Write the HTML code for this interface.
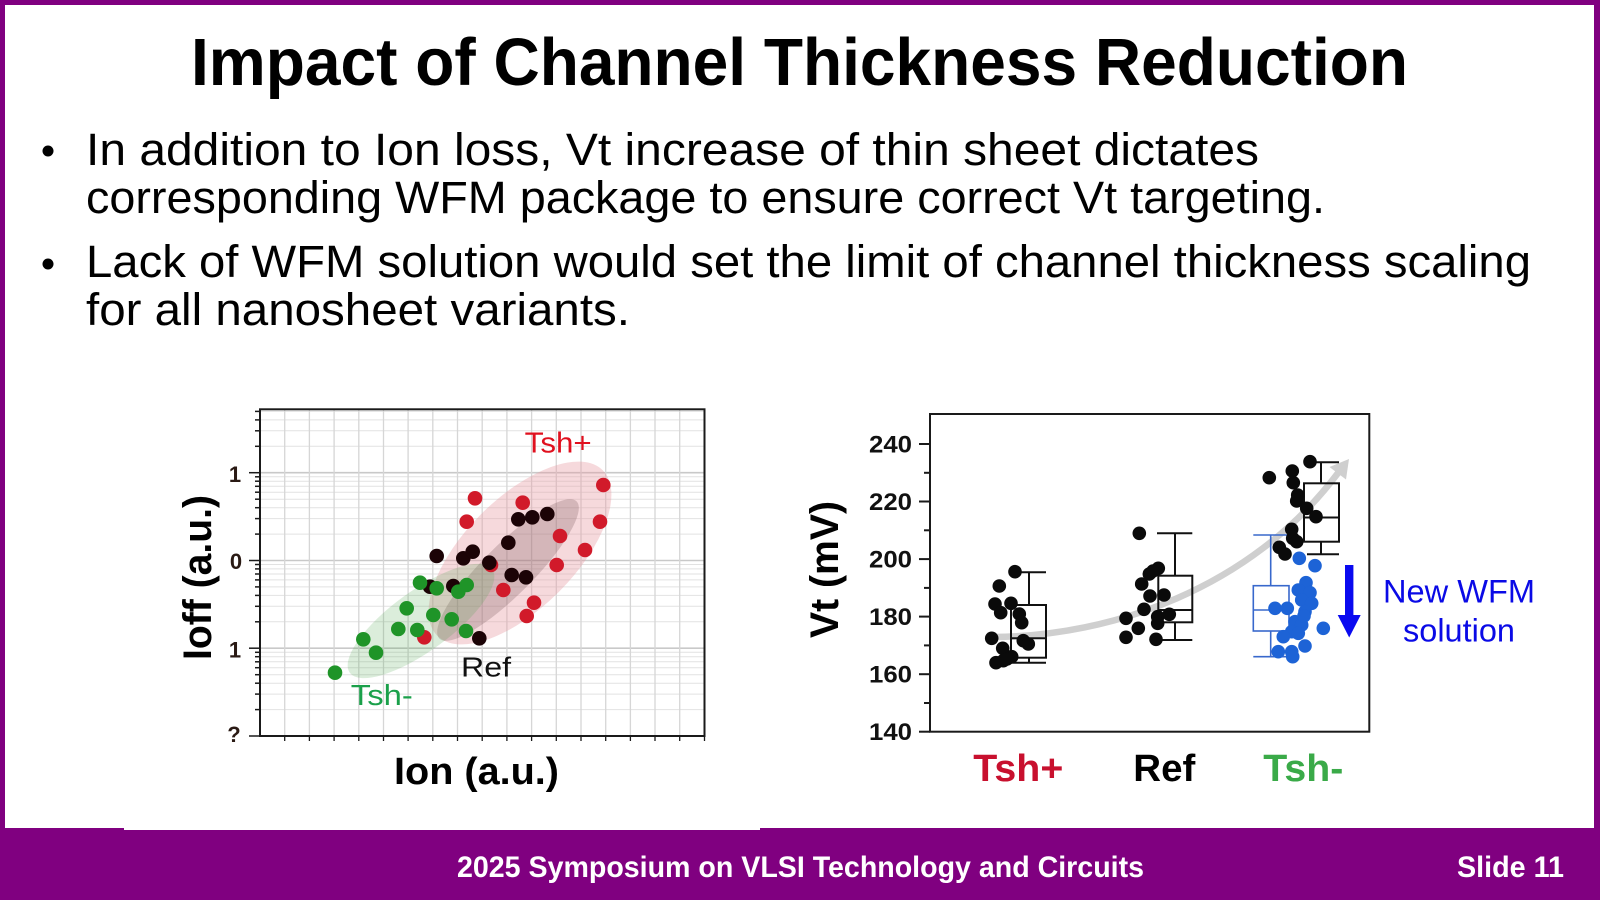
<!DOCTYPE html>
<html>
<head>
<meta charset="utf-8">
<style>
html,body{margin:0;padding:0;background:#fff;}
svg{display:block;}
text{font-family:"Liberation Sans",Arial,sans-serif;}
</style>
</head>
<body>
<svg width="1600" height="900" viewBox="0 0 1600 900" xmlns="http://www.w3.org/2000/svg">
<!-- slide background & border -->
<rect x="0" y="0" width="1600" height="900" fill="#800080"/>
<rect x="5" y="5" width="1589" height="823" fill="#ffffff"/>
<rect x="124" y="826" width="636" height="4" fill="#ffffff"/>

<!-- Title -->
<text x="191" y="85" font-size="67" font-weight="bold" fill="#000" textLength="1217" lengthAdjust="spacingAndGlyphs">Impact of Channel Thickness Reduction</text>

<!-- Bullets -->
<circle cx="48" cy="151" r="5.5" fill="#000"/>
<circle cx="48" cy="264" r="5.5" fill="#000"/>
<text x="86" y="165" font-size="45" fill="#000" textLength="1173" lengthAdjust="spacingAndGlyphs">In addition to Ion loss, Vt increase of thin sheet dictates</text>
<text x="86" y="213" font-size="45" fill="#000" textLength="1239" lengthAdjust="spacingAndGlyphs">corresponding WFM package to ensure correct Vt targeting.</text>
<text x="86" y="277" font-size="45" fill="#000" textLength="1445" lengthAdjust="spacingAndGlyphs">Lack of WFM solution would set the limit of channel thickness scaling</text>
<text x="86" y="325" font-size="45" fill="#000" textLength="544" lengthAdjust="spacingAndGlyphs">for all nanosheet variants.</text>

<!-- ================= LEFT CHART ================= -->
<g>
  <rect x="260" y="409.3" width="444.5" height="326.7" fill="#fff"/>
  <!-- minor horizontal grid -->
  <g stroke="#e2e2e2" stroke-width="1">
    <line x1="260" x2="704.5" y1="709.6" y2="709.6"/><line x1="260" x2="704.5" y1="694.1" y2="694.1"/>
    <line x1="260" x2="704.5" y1="683.2" y2="683.2"/><line x1="260" x2="704.5" y1="674.7" y2="674.7"/>
    <line x1="260" x2="704.5" y1="667.7" y2="667.7"/><line x1="260" x2="704.5" y1="661.8" y2="661.8"/>
    <line x1="260" x2="704.5" y1="656.7" y2="656.7"/><line x1="260" x2="704.5" y1="652.3" y2="652.3"/>
    <line x1="260" x2="704.5" y1="621.8" y2="621.8"/><line x1="260" x2="704.5" y1="606.3" y2="606.3"/>
    <line x1="260" x2="704.5" y1="595.4" y2="595.4"/><line x1="260" x2="704.5" y1="586.9" y2="586.9"/>
    <line x1="260" x2="704.5" y1="579.9" y2="579.9"/><line x1="260" x2="704.5" y1="574.0" y2="574.0"/>
    <line x1="260" x2="704.5" y1="568.9" y2="568.9"/><line x1="260" x2="704.5" y1="564.5" y2="564.5"/>
    <line x1="260" x2="704.5" y1="534.1" y2="534.1"/><line x1="260" x2="704.5" y1="518.6" y2="518.6"/>
    <line x1="260" x2="704.5" y1="507.7" y2="507.7"/><line x1="260" x2="704.5" y1="499.2" y2="499.2"/>
    <line x1="260" x2="704.5" y1="492.2" y2="492.2"/><line x1="260" x2="704.5" y1="486.3" y2="486.3"/>
    <line x1="260" x2="704.5" y1="481.2" y2="481.2"/><line x1="260" x2="704.5" y1="476.8" y2="476.8"/>
    <line x1="260" x2="704.5" y1="446.3" y2="446.3"/><line x1="260" x2="704.5" y1="430.8" y2="430.8"/>
    <line x1="260" x2="704.5" y1="419.9" y2="419.9"/><line x1="260" x2="704.5" y1="411.4" y2="411.4"/>
  </g>
  <!-- major horizontal grid -->
  <g stroke="#c9c9c9" stroke-width="1.6">
    <line x1="260" x2="704.5" y1="472.7" y2="472.7"/>
    <line x1="260" x2="704.5" y1="560.5" y2="560.5"/>
    <line x1="260" x2="704.5" y1="648.2" y2="648.2"/>
  </g>
  <!-- vertical grid -->
  <g stroke="#d6d6d6" stroke-width="1.3">
    <line y1="409.3" y2="736" x1="284.7" x2="284.7"/><line y1="409.3" y2="736" x1="309.4" x2="309.4"/>
    <line y1="409.3" y2="736" x1="334.1" x2="334.1"/><line y1="409.3" y2="736" x1="358.8" x2="358.8"/>
    <line y1="409.3" y2="736" x1="383.5" x2="383.5"/><line y1="409.3" y2="736" x1="408.1" x2="408.1"/>
    <line y1="409.3" y2="736" x1="432.8" x2="432.8"/><line y1="409.3" y2="736" x1="457.5" x2="457.5"/>
    <line y1="409.3" y2="736" x1="482.2" x2="482.2"/><line y1="409.3" y2="736" x1="506.9" x2="506.9"/>
    <line y1="409.3" y2="736" x1="531.6" x2="531.6"/><line y1="409.3" y2="736" x1="556.3" x2="556.3"/>
    <line y1="409.3" y2="736" x1="581.0" x2="581.0"/><line y1="409.3" y2="736" x1="605.7" x2="605.7"/>
    <line y1="409.3" y2="736" x1="630.4" x2="630.4"/><line y1="409.3" y2="736" x1="655.0" x2="655.0"/>
    <line y1="409.3" y2="736" x1="679.7" x2="679.7"/>
  </g>

  <!-- ellipses -->
  <ellipse cx="520" cy="553" rx="117" ry="55" transform="rotate(-45 520 553)" fill="#e79aa3" fill-opacity="0.38"/>
  <ellipse cx="508" cy="570" rx="97" ry="25" transform="rotate(-45 508 570)" fill="#5a3a3e" fill-opacity="0.22"/>
  <ellipse cx="421" cy="621" rx="88" ry="30" transform="rotate(-36 421 621)" fill="#4aa64a" fill-opacity="0.2"/>

  <!-- red dots -->
  <g fill="#d11a2a">
    <circle cx="475" cy="498.3" r="7.3"/><circle cx="466.7" cy="521.7" r="7.3"/>
    <circle cx="522.7" cy="502.7" r="7.3"/><circle cx="603.3" cy="485" r="7.3"/>
    <circle cx="600" cy="521.7" r="7.3"/><circle cx="560" cy="536" r="7.3"/>
    <circle cx="585" cy="550" r="7.3"/><circle cx="556.7" cy="565" r="7.3"/>
    <circle cx="503.3" cy="590" r="7.3"/><circle cx="534" cy="602.7" r="7.3"/>
    <circle cx="526.7" cy="616" r="7.3"/><circle cx="424.3" cy="637.3" r="7.3"/>
    <circle cx="491" cy="565" r="7.3"/>
  </g>
  <!-- black dots -->
  <g fill="#1c0306">
    <circle cx="436.7" cy="556" r="7.3"/><circle cx="463.3" cy="558.3" r="7.3"/>
    <circle cx="472.7" cy="551.7" r="7.3"/><circle cx="489.3" cy="562.7" r="7.3"/>
    <circle cx="508.3" cy="542.7" r="7.3"/><circle cx="518.3" cy="519.3" r="7.3"/>
    <circle cx="532.3" cy="517.3" r="7.3"/><circle cx="547.3" cy="514" r="7.3"/>
    <circle cx="511.7" cy="575" r="7.3"/><circle cx="526" cy="577.3" r="7.3"/>
    <circle cx="430" cy="586.7" r="7.3"/><circle cx="453.3" cy="586" r="7.3"/>
    <circle cx="479.3" cy="638.3" r="7.3"/>
  </g>
  <!-- green dots -->
  <g fill="#1f9428">
    <circle cx="420" cy="582.7" r="7.3"/><circle cx="436.7" cy="588.3" r="7.3"/>
    <circle cx="458.3" cy="591.7" r="7.3"/><circle cx="466.7" cy="585" r="7.3"/>
    <circle cx="406.7" cy="608.3" r="7.3"/><circle cx="433.3" cy="615" r="7.3"/>
    <circle cx="451.7" cy="619.3" r="7.3"/><circle cx="466" cy="631" r="7.3"/>
    <circle cx="417.3" cy="630" r="7.3"/><circle cx="398.3" cy="629" r="7.3"/>
    <circle cx="363.3" cy="639.3" r="7.3"/><circle cx="376" cy="652.7" r="7.3"/>
    <circle cx="335" cy="672.7" r="7.3"/>
  </g>

  <!-- labels in plot -->
  <text x="524.7" y="452.7" font-size="29" fill="#e0101e" textLength="67" lengthAdjust="spacingAndGlyphs">Tsh+</text>
  <text x="461" y="676.7" font-size="28" fill="#111" textLength="50" lengthAdjust="spacingAndGlyphs">Ref</text>
  <text x="350.8" y="705" font-size="29" fill="#1aa04a" textLength="62" lengthAdjust="spacingAndGlyphs">Tsh-</text>

  <!-- frame -->
  <rect x="260" y="409.3" width="444.5" height="326.7" fill="none" stroke="#1a1a1a" stroke-width="2"/>

  <!-- left ticks -->
  <g stroke="#1a1a1a" stroke-width="1.5">
    <line x1="249" x2="260" y1="472.7" y2="472.7"/><line x1="249" x2="260" y1="560.5" y2="560.5"/>
    <line x1="249" x2="260" y1="648.2" y2="648.2"/><line x1="249" x2="260" y1="736" y2="736"/>
    <line x1="255" x2="260" y1="709.6" y2="709.6"/><line x1="255" x2="260" y1="694.1" y2="694.1"/>
    <line x1="255" x2="260" y1="683.2" y2="683.2"/><line x1="255" x2="260" y1="674.7" y2="674.7"/>
    <line x1="255" x2="260" y1="667.7" y2="667.7"/><line x1="255" x2="260" y1="661.8" y2="661.8"/>
    <line x1="255" x2="260" y1="656.7" y2="656.7"/><line x1="255" x2="260" y1="652.3" y2="652.3"/>
    <line x1="255" x2="260" y1="621.8" y2="621.8"/><line x1="255" x2="260" y1="606.3" y2="606.3"/>
    <line x1="255" x2="260" y1="595.4" y2="595.4"/><line x1="255" x2="260" y1="586.9" y2="586.9"/>
    <line x1="255" x2="260" y1="579.9" y2="579.9"/><line x1="255" x2="260" y1="574.0" y2="574.0"/>
    <line x1="255" x2="260" y1="568.9" y2="568.9"/><line x1="255" x2="260" y1="564.5" y2="564.5"/>
    <line x1="255" x2="260" y1="534.1" y2="534.1"/><line x1="255" x2="260" y1="518.6" y2="518.6"/>
    <line x1="255" x2="260" y1="507.7" y2="507.7"/><line x1="255" x2="260" y1="499.2" y2="499.2"/>
    <line x1="255" x2="260" y1="492.2" y2="492.2"/><line x1="255" x2="260" y1="486.3" y2="486.3"/>
    <line x1="255" x2="260" y1="481.2" y2="481.2"/><line x1="255" x2="260" y1="476.8" y2="476.8"/>
    <line x1="255" x2="260" y1="446.3" y2="446.3"/><line x1="255" x2="260" y1="430.8" y2="430.8"/>
    <line x1="255" x2="260" y1="419.9" y2="419.9"/><line x1="255" x2="260" y1="411.4" y2="411.4"/>
  </g>
  <!-- bottom ticks -->
  <g stroke="#1a1a1a" stroke-width="1.3">
    <line y1="736" y2="741" x1="284.7" x2="284.7"/><line y1="736" y2="741" x1="309.4" x2="309.4"/>
    <line y1="736" y2="741" x1="334.1" x2="334.1"/><line y1="736" y2="741" x1="358.8" x2="358.8"/>
    <line y1="736" y2="741" x1="383.5" x2="383.5"/><line y1="736" y2="741" x1="408.1" x2="408.1"/>
    <line y1="736" y2="741" x1="432.8" x2="432.8"/><line y1="736" y2="741" x1="457.5" x2="457.5"/>
    <line y1="736" y2="741" x1="482.2" x2="482.2"/><line y1="736" y2="741" x1="506.9" x2="506.9"/>
    <line y1="736" y2="741" x1="531.6" x2="531.6"/><line y1="736" y2="741" x1="556.3" x2="556.3"/>
    <line y1="736" y2="741" x1="581.0" x2="581.0"/><line y1="736" y2="741" x1="605.7" x2="605.7"/>
    <line y1="736" y2="741" x1="630.4" x2="630.4"/><line y1="736" y2="741" x1="655.0" x2="655.0"/>
    <line y1="736" y2="741" x1="679.7" x2="679.7"/><line y1="736" y2="741" x1="704.5" x2="704.5"/>
  </g>
  <!-- y tick labels (cropped) -->
  <g font-size="22" font-weight="bold" fill="#2a1a14" text-anchor="middle">
    <text x="235" y="482">1</text>
    <text x="236" y="569">0</text>
    <text x="235" y="657.5">1</text>
    <text x="234" y="742">?</text>
  </g>
  <!-- axis titles -->
  <text transform="translate(211,660) rotate(-90)" font-size="40" font-weight="bold" fill="#000" textLength="165" lengthAdjust="spacingAndGlyphs">Ioff (a.u.)</text>
  <text x="394" y="784" font-size="38" font-weight="bold" fill="#000" textLength="165" lengthAdjust="spacingAndGlyphs">Ion (a.u.)</text>
</g>

<!-- ================= RIGHT CHART ================= -->
<g>
  <!-- gray trend arrow -->
  <path d="M994,637 C1110,636 1250,590 1338,473" fill="none" stroke="#cfcfcf" stroke-width="6.5"/>
  <polygon points="1349,459 1346,479.5 1329.5,467" fill="#cfcfcf"/>

  <!-- boxes -->
  <g fill="none" stroke="#111" stroke-width="2">
    <rect x="1011" y="605" width="35" height="52.7"/>
    <line x1="1011" x2="1046" y1="638.3" y2="638.3"/>
    <line x1="1029" x2="1029" y1="572.3" y2="605"/>
    <line x1="1029" x2="1029" y1="657.7" y2="662.7"/>
    <line x1="1014" x2="1046" y1="572.3" y2="572.3"/>
    <line x1="1011" x2="1046" y1="662.7" y2="662.7"/>
    <rect x="1158.3" y="575.7" width="34" height="46.6"/>
    <line x1="1158.3" x2="1192.3" y1="610" y2="610"/>
    <line x1="1175" x2="1175" y1="533.3" y2="575.7"/>
    <line x1="1175" x2="1175" y1="622.3" y2="640"/>
    <line x1="1157" x2="1192.3" y1="533.3" y2="533.3"/>
    <line x1="1157" x2="1192.3" y1="640" y2="640"/>
    <rect x="1304" y="483.3" width="35" height="58.4"/>
    <line x1="1304" x2="1339" y1="517.5" y2="517.5"/>
    <line x1="1321" x2="1321" y1="462.3" y2="483.3"/>
    <line x1="1321" x2="1321" y1="541.7" y2="554.3"/>
    <line x1="1307" x2="1339" y1="462.3" y2="462.3"/>
    <line x1="1307" x2="1339" y1="554.3" y2="554.3"/>
  </g>
  <g fill="none" stroke="#3868cc" stroke-width="1.6">
    <rect x="1253.3" y="585.7" width="35.7" height="45.3"/>
    <line x1="1253.3" x2="1289" y1="610" y2="610"/>
    <line x1="1270.7" x2="1270.7" y1="535" y2="585.7"/>
    <line x1="1270.7" x2="1270.7" y1="631" y2="656.7"/>
    <line x1="1253.3" x2="1289" y1="535" y2="535"/>
    <line x1="1253.3" x2="1289" y1="656.7" y2="656.7"/>
  </g>

  <!-- black dots -->
  <g fill="#0a0a0a">
    <circle cx="1015" cy="571.7" r="6.8"/><circle cx="999.3" cy="586" r="6.8"/>
    <circle cx="995" cy="604" r="6.8"/><circle cx="1011" cy="603.3" r="6.8"/>
    <circle cx="1000.7" cy="612.7" r="6.8"/><circle cx="1019.3" cy="614" r="6.8"/>
    <circle cx="1021.7" cy="622.7" r="6.8"/><circle cx="991.7" cy="638.3" r="6.8"/>
    <circle cx="1023.3" cy="640.7" r="6.8"/><circle cx="1028.3" cy="644" r="6.8"/>
    <circle cx="1002.7" cy="648.3" r="6.8"/><circle cx="1011.7" cy="656.7" r="6.8"/>
    <circle cx="996" cy="662.7" r="6.8"/><circle cx="1003.3" cy="660.7" r="6.8"/>
    <circle cx="1007" cy="659" r="6.8"/>
    <circle cx="1139.3" cy="533.3" r="6.8"/><circle cx="1149.3" cy="574" r="6.8"/>
    <circle cx="1158.3" cy="568.3" r="6.8"/><circle cx="1153" cy="571" r="6.8"/>
    <circle cx="1141.7" cy="584" r="6.8"/>
    <circle cx="1150" cy="596" r="6.8"/><circle cx="1164" cy="595" r="6.8"/>
    <circle cx="1144" cy="609.3" r="6.8"/><circle cx="1126" cy="618.3" r="6.8"/>
    <circle cx="1157.7" cy="616.7" r="6.8"/><circle cx="1169.3" cy="614.3" r="6.8"/>
    <circle cx="1157.7" cy="623.3" r="6.8"/><circle cx="1138.3" cy="628.3" r="6.8"/>
    <circle cx="1126" cy="637.3" r="6.8"/><circle cx="1156" cy="639.3" r="6.8"/>
    <circle cx="1269.3" cy="477.7" r="6.8"/><circle cx="1310" cy="461.7" r="6.8"/>
    <circle cx="1292.3" cy="471" r="6.8"/><circle cx="1293.3" cy="482.7" r="6.8"/>
    <circle cx="1297.7" cy="495" r="6.8"/><circle cx="1296.7" cy="501" r="6.8"/>
    <circle cx="1306.7" cy="508.3" r="6.8"/><circle cx="1316" cy="516.7" r="6.8"/>
    <circle cx="1291.7" cy="529.3" r="6.8"/><circle cx="1292.7" cy="538.3" r="6.8"/>
    <circle cx="1296.7" cy="541.7" r="6.8"/><circle cx="1279.3" cy="547.3" r="6.8"/>
    <circle cx="1285" cy="554" r="6.8"/>
  </g>
  <!-- blue dots -->
  <g fill="#1d63d6">
    <circle cx="1299.3" cy="558.3" r="6.8"/><circle cx="1315" cy="565.7" r="6.8"/>
    <circle cx="1306" cy="582.7" r="6.8"/><circle cx="1298.3" cy="590" r="6.8"/>
    <circle cx="1310" cy="592.7" r="6.8"/><circle cx="1301.7" cy="600" r="6.8"/>
    <circle cx="1311.7" cy="603.3" r="6.8"/><circle cx="1275" cy="608.3" r="6.8"/>
    <circle cx="1287.3" cy="608.3" r="6.8"/><circle cx="1305" cy="611.7" r="6.8"/>
    <circle cx="1323.3" cy="628.3" r="6.8"/><circle cx="1295" cy="621.7" r="6.8"/>
    <circle cx="1301.7" cy="625" r="6.8"/><circle cx="1291.7" cy="631.7" r="6.8"/>
    <circle cx="1283.3" cy="636.7" r="6.8"/><circle cx="1298.3" cy="633.3" r="6.8"/>
    <circle cx="1305" cy="646" r="6.8"/><circle cx="1278.3" cy="651.7" r="6.8"/>
    <circle cx="1291.7" cy="651.7" r="6.8"/><circle cx="1292.7" cy="656.7" r="6.8"/>
    <circle cx="1304" cy="616" r="6.8"/>
  </g>

  <!-- blue arrow -->
  <rect x="1345" y="565" width="8.4" height="52" fill="#0a0af0"/>
  <polygon points="1337.7,615 1360.7,615 1349.2,637.5" fill="#0a0af0"/>
  <text x="1383" y="602.7" font-size="32" fill="#0a0ae6" textLength="152" lengthAdjust="spacingAndGlyphs">New WFM</text>
  <text x="1403" y="641.7" font-size="32" fill="#0a0ae6" textLength="112" lengthAdjust="spacingAndGlyphs">solution</text>

  <!-- frame -->
  <rect x="930" y="414" width="439.3" height="317.7" fill="none" stroke="#1a1a1a" stroke-width="2"/>
  <!-- ticks -->
  <g stroke="#1a1a1a" stroke-width="2">
    <line x1="919" x2="930" y1="444" y2="444"/><line x1="919" x2="930" y1="501.5" y2="501.5"/>
    <line x1="919" x2="930" y1="559.1" y2="559.1"/><line x1="919" x2="930" y1="616.6" y2="616.6"/>
    <line x1="919" x2="930" y1="674.2" y2="674.2"/><line x1="919" x2="930" y1="731.7" y2="731.7"/>
    <line x1="924" x2="930" y1="472.8" y2="472.8"/><line x1="924" x2="930" y1="530.3" y2="530.3"/>
    <line x1="924" x2="930" y1="587.9" y2="587.9"/><line x1="924" x2="930" y1="645.4" y2="645.4"/>
    <line x1="924" x2="930" y1="703" y2="703"/>
  </g>
  <g font-size="24" font-weight="bold" fill="#111" text-anchor="end">
    <text x="912" y="452.5" textLength="43" lengthAdjust="spacingAndGlyphs">240</text>
    <text x="912" y="510" textLength="43" lengthAdjust="spacingAndGlyphs">220</text>
    <text x="912" y="567.6" textLength="43" lengthAdjust="spacingAndGlyphs">200</text>
    <text x="912" y="625.1" textLength="43" lengthAdjust="spacingAndGlyphs">180</text>
    <text x="912" y="682.7" textLength="43" lengthAdjust="spacingAndGlyphs">160</text>
    <text x="912" y="740.2" textLength="43" lengthAdjust="spacingAndGlyphs">140</text>
  </g>
  <text transform="translate(838,638) rotate(-90)" font-size="40" font-weight="bold" fill="#000" textLength="137" lengthAdjust="spacingAndGlyphs">Vt (mV)</text>

  <!-- category labels -->
  <text x="973.3" y="781" font-size="38" font-weight="bold" fill="#c8102e" textLength="90" lengthAdjust="spacingAndGlyphs">Tsh+</text>
  <text x="1133.3" y="781" font-size="38" font-weight="bold" fill="#000" textLength="62" lengthAdjust="spacingAndGlyphs">Ref</text>
  <text x="1263.3" y="781" font-size="38" font-weight="bold" fill="#3aaa48" textLength="80" lengthAdjust="spacingAndGlyphs">Tsh-</text>
</g>

<!-- Footer -->
<text x="457" y="877" font-size="30" font-weight="bold" fill="#fff" textLength="687" lengthAdjust="spacingAndGlyphs">2025 Symposium on VLSI Technology and Circuits</text>
<text x="1457" y="877" font-size="30" font-weight="bold" fill="#fff" textLength="107" lengthAdjust="spacingAndGlyphs">Slide 11</text>
</svg>
</body>
</html>
